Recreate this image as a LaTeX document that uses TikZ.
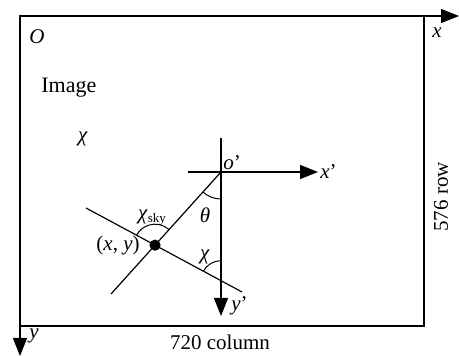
\documentclass[tikz,border=0pt]{standalone}
\usepackage{fontspec}
\setmainfont{Liberation Serif}
\usetikzlibrary{arrows.meta,positioning,calc,angles,intersections}
\tikzset{
  frame/.style={draw=black, line width=0.6pt},
  axis/.style={-{Triangle[length=9pt,width=7pt]}, line width=0.6pt},
  ray/.style={line width=0.6pt},
  spot/.style={circle, fill=black, inner sep=0pt, minimum size=5.6pt},
  lbl/.style={inner sep=1pt, font=\fontsize{10.5}{12}\selectfont},
  arcmark/.style={draw, line width=0.5pt, angle radius=#1}
}

\begin{document}
\begin{tikzpicture}[x=0.5pt, y=0.5pt]
  \useasboundingbox (0,0) rectangle (459,356);
  % Image frame and pixel axes
  \coordinate (O) at (20,340);
  \coordinate (fcorner) at (424,30);
  \coordinate (xend) at (459,340);
  \coordinate (yend) at (20,0);
  \draw[frame] (O) rectangle (fcorner);
  \draw[axis] (O) -- (xend);
  \draw[axis] (O) -- (yend);

  \node[lbl] (orig) at (37,319) {\textit{O}};
  \node[lbl, anchor=west, font=\fontsize{11}{13}\selectfont] (img) at (39,268) {Image};
  \node[lbl] (chitop) at (83,217) {\textit{χ}};
  \node[lbl] (xlab) at (437,323) {\textit{x}};
  \node[lbl] (ylab) at (34,20) {\textit{y}};
  \node[lbl, rotate=90] (rows) at (441,159) {576 row};
  \node[lbl] (cols) at (220,14) {720 column};

  % Rotated frame at o'
  \coordinate (op) at (221,184);
  \coordinate (vtop) at (221,218);
  \coordinate (vbot) at (221,40);
  \coordinate (hleft) at (188,184);
  \coordinate (hright) at (318,184);
  \coordinate (aend) at (111,62);
  \coordinate (bleft) at (86,148);
  \coordinate (bright) at (242,64);
  \path[name path=lineA] (op) -- (aend);
  \path[name path=lineB] (bleft) -- (bright);
  \path[name path=vert] (vtop) -- (vbot);
  \path[name intersections={of=lineA and lineB, by=pt}];
  \path[name intersections={of=lineB and vert, by=cx}];

  \draw[axis] (hleft) -- (hright);
  \draw[axis] (vtop) -- (vbot);
  \draw[ray] (op) -- (aend);
  \draw[ray] (bleft) -- (bright);
  \node[spot] (dot) at (pt) {};

  \pic[arcmark=13.5pt] {angle = aend--op--vbot};
  \pic[arcmark=10pt] {angle = vtop--cx--bleft};
  \pic[arcmark=10.5pt] {angle = op--pt--bleft};

  \node[lbl, anchor=south west] (olab) at (op) {\textit{o}'};
  \node[lbl, anchor=west] (xlabp) at (hright) {\textit{x}'};
  \node[lbl, anchor=west] (ylabp) at ($(vbot)+(8,10)$) {\textit{y}'};
  \node[lbl] (th) at (205,141) {\textit{θ}};
  \node[lbl] (chib) at (205,99) {\textit{χ}};
  \node[lbl] (chisky) at (152,138) {\textit{χ}\raisebox{-0.3ex}{\fontsize{6.5}{7}\selectfont sky}};
  \node[lbl, left=3.5pt of dot] (xy) {(\textit{x}, \textit{y})};
\end{tikzpicture}
\end{document}
